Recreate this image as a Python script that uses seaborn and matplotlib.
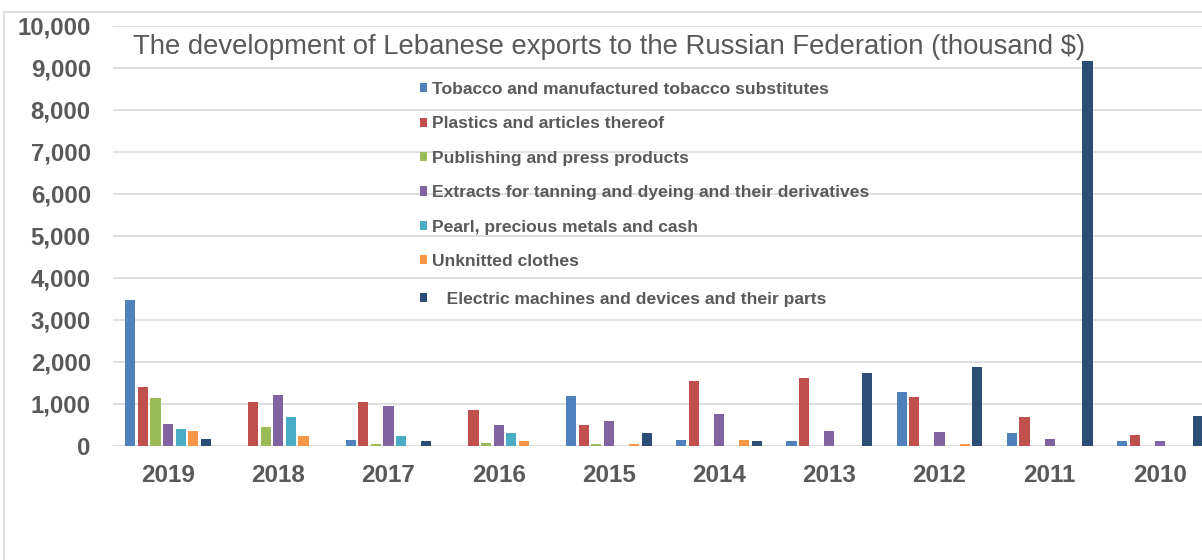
import numpy as np
import matplotlib
matplotlib.use("Agg")
import matplotlib.pyplot as plt
import seaborn as sns
import pandas as pd
from matplotlib.patches import Patch, Rectangle

years = ["2019", "2018", "2017", "2016", "2015", "2014", "2013", "2012", "2011", "2010"]
categories = [
    "Tobacco and manufactured tobacco substitutes",
    "Plastics and articles thereof",
    "Publishing and press products",
    "Extracts for tanning and dyeing and their derivatives",
    "Pearl, precious metals and cash",
    "Unknitted clothes",
    "Electric machines and devices and their parts",
]
# values in thousand $, one list per category, ordered as years
tobacco    = [3480, 0, 143, 0, 1198, 143, 111, 1294, 302, 111]
plastics   = [1400, 1040, 1040, 849, 492, 1548, 1611, 1159, 683, 262]
publishing = [1135, 460, 48, 71, 48, 0, 0, 0, 0, 0]
extracts   = [524, 1206, 944, 492, 595, 754, 365, 333, 175, 111]
pearl      = [397, 683, 238, 302, 0, 0, 0, 0, 0, 0]
clothes    = [365, 238, 0, 111, 48, 143, 0, 48, 0, 0]
electric   = [167, 0, 111, 0, 302, 111, 1738, 1873, 9170, 714]

series = [tobacco, plastics, publishing, extracts, pearl, clothes, electric]
colors = ["#4F81BD", "#C0504D", "#9BBB59", "#8064A2", "#4BACC6", "#F79646", "#2C4D75"]

rows = []
for cat, vals in zip(categories, series):
    for yr, v in zip(years, vals):
        rows.append({"year": yr, "category": cat, "value": v})
df = pd.DataFrame(rows)

sns.set_style("white")
plt.rcParams["font.family"] = ["Liberation Sans", "DejaVu Sans"]

W, H = 1202, 560
fig = plt.figure(figsize=(W / 100, H / 100), dpi=100)
ax = fig.add_axes([113 / W, (H - 446) / H, 1102 / W, 420 / H])

sns.barplot(data=df, x="year", y="value", hue="category", order=years,
            hue_order=categories, palette=colors, width=0.8, gap=0.2,
            saturation=1, linewidth=0, legend=False, ax=ax)

ax.set_ylim(0, 10000)
ax.set_xlim(-0.5, 9.5)
ax.set_yticks(np.arange(0, 10001, 1000))
ax.set_yticklabels([f"{v:,}" for v in range(0, 10001, 1000)])
ax.yaxis.grid(True, color="#D9D9D9", linewidth=1.2)
ax.set_axisbelow(True)
for s in ax.spines.values():
    s.set_visible(False)
ax.tick_params(axis="y", length=0, pad=16, labelsize=17.3, labelcolor="#595959")
ax.tick_params(axis="x", length=0, pad=13, labelsize=17.5, labelcolor="#595959")
for lbl in ax.get_xticklabels() + ax.get_yticklabels():
    lbl.set_fontweight("bold")
ax.set_xlabel("")
ax.set_ylabel("")

# outer chart border
fig.patches.append(Rectangle((4 / W, -0.1), 1.2, (H - 12) / H + 0.1,
                             transform=fig.transFigure, fill=False,
                             edgecolor="#D9D9D9", linewidth=1.2))

fig.text(133 / W, 1 - 47 / H,
         "The development of Lebanese exports to the Russian Federation (thousand $)",
         ha="left", va="center", fontsize=19.8, color="#595959")

handles = [Patch(facecolor=c, edgecolor="none") for c in colors]
leg_kw = dict(loc="upper left", frameon=False, borderpad=0, borderaxespad=0,
              fontsize=12.6, handlelength=0.42, handleheight=0.42,
              handletextpad=0.25, labelspacing=1.11)
# first six entries, then the last one a bit lower and indented, as in the original
leg1 = fig.legend(handles[:-1], categories[:-1],
                  bbox_to_anchor=(420 / W, 1 - 82 / H), **leg_kw)
leg2 = fig.legend(handles[-1:], ["   " + categories[-1]],
                  bbox_to_anchor=(420 / W, 1 - 292 / H), **leg_kw)
for leg in (leg1, leg2):
    for t in leg.get_texts():
        t.set_fontweight("bold")
        t.set_color("#595959")

fig.savefig("out.png", dpi=100)
